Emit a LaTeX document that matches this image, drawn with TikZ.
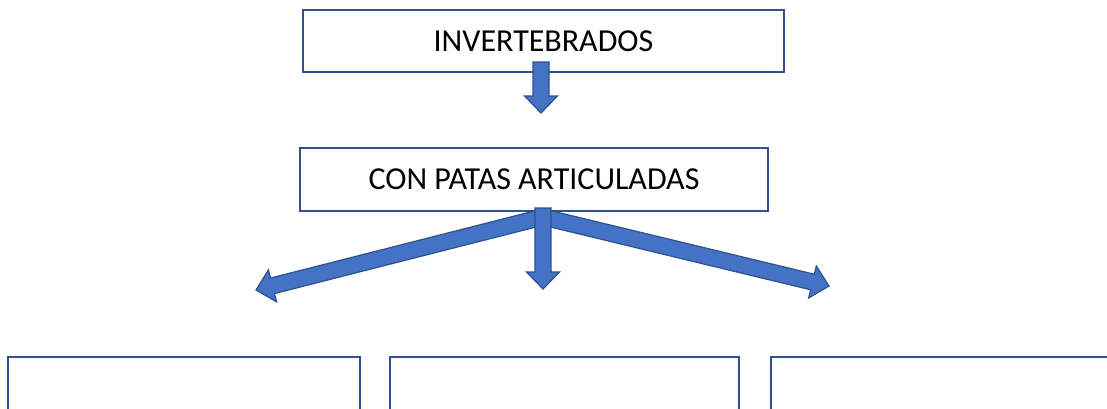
\documentclass[tikz,border=0pt]{standalone}
\usepackage{fontspec}
\setmainfont{Carlito}
\usepackage{xcolor}
\usepackage{tikz}
\usetikzlibrary{calc}

\definecolor{boxline}{HTML}{2F528F}
\definecolor{arrowfill}{HTML}{4472C4}

% fat block arrow from #1 to #2
\newcommand{\blockarrow}[2]{%
    \draw[draw=boxline, fill=arrowfill, line width=1.2pt, line join=miter]
        ($(#1)!8pt!90:(#2)$) -- ($($(#2)!17pt!(#1)$)!8pt!-90:(#1)$)
        -- ($($(#2)!17pt!(#1)$)!16.5pt!-90:(#1)$) -- (#2)
        -- ($($(#2)!17pt!(#1)$)!16.5pt!90:(#1)$)
        -- ($($(#2)!17pt!(#1)$)!8pt!90:(#1)$)
        -- ($(#1)!8pt!-90:(#2)$) -- cycle;}

\begin{document}
\begin{tikzpicture}[x=1pt,y=-1pt]
    \tikzstyle{box}=[draw=boxline, line width=1.5pt, fill=white, inner sep=0pt,
        font=\fontsize{32}{38}\selectfont]

    \useasboundingbox (0,0) rectangle (1107,408);
    \clip (0,0) rectangle (1107,408);

    \node[box, minimum width=481pt, minimum height=62pt] (inv) at (543.5, 41) {INVERTEBRADOS};
    \node[box, minimum width=468pt, minimum height=63pt] (patas) at (534, 179.5) {CON PATAS ARTICULADAS};

    \node[box, minimum width=352pt, minimum height=100pt] (left) at (184, 407) {};
    \node[box, minimum width=349pt, minimum height=100pt] (mid) at (564.5, 407) {};
    \node[box, minimum width=400pt, minimum height=100pt] (right) at (971, 407) {};

    \coordinate (s0) at (541, 62);
    \coordinate (t0) at (541, 113);
    \coordinate (s1) at (543, 217);
    \coordinate (tl) at (256, 290);
    \coordinate (tr) at (829, 286);
    \coordinate (s2) at (543, 208);
    \coordinate (tm) at (543, 289);

    \blockarrow{s0}{t0}
    \blockarrow{s1}{tl}
    \blockarrow{s1}{tr}
    \blockarrow{s2}{tm}
\end{tikzpicture}
\end{document}
